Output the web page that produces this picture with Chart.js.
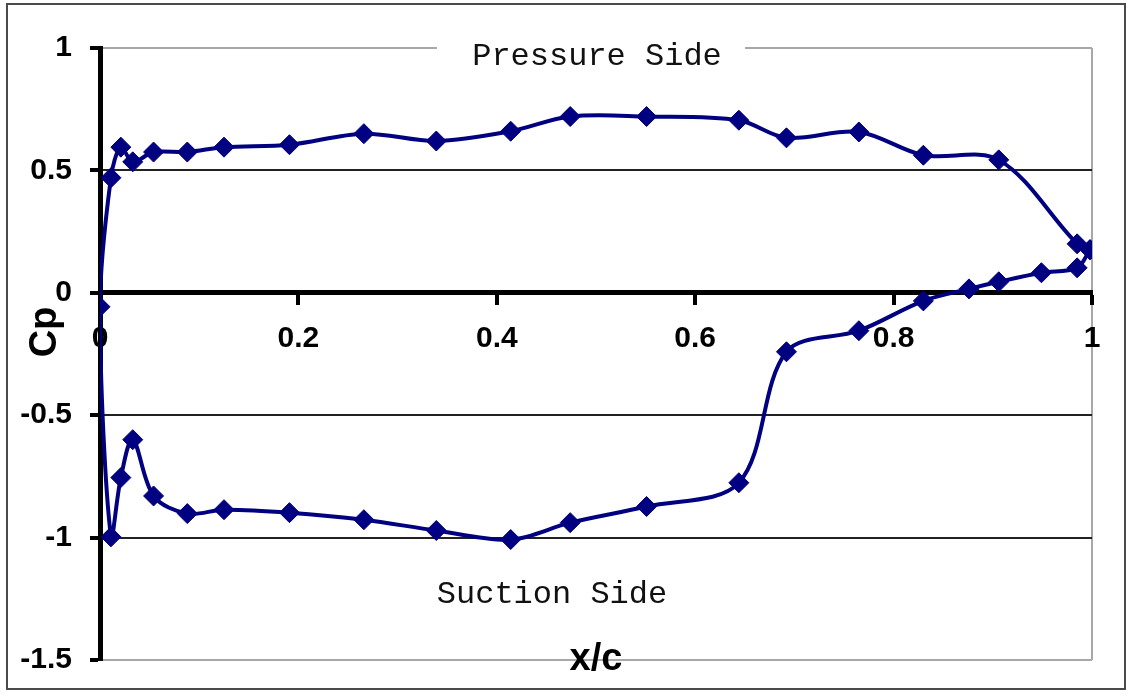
<!DOCTYPE html>
<html>
<head>
<meta charset="utf-8">
<script src="https://cdn.jsdelivr.net/npm/chart.js@4.4.1/dist/chart.umd.min.js"></script>
<style>
  html, body { margin: 0; padding: 0; background: #fff; }
  canvas { display: block; }
</style>
</head>
<body>
<canvas id="cp" width="1130" height="695"></canvas>
<script>
// Chordwise stations (x/c) and pressure coefficients, leading edge to trailing edge
const xPressure  = [0, 0.011, 0.021, 0.033, 0.054, 0.088, 0.125, 0.191, 0.266, 0.339, 0.414, 0.474, 0.551, 0.644, 0.692, 0.765, 0.830, 0.906, 0.985, 0.998];
const cpPressure = [-0.057, 0.47, 0.595, 0.535, 0.575, 0.575, 0.595, 0.605, 0.65, 0.62, 0.66, 0.72, 0.72, 0.705, 0.633, 0.657, 0.562, 0.543, 0.20, 0.176];

const xSuction  = [0, 0.011, 0.021, 0.033, 0.054, 0.088, 0.125, 0.191, 0.266, 0.339, 0.414, 0.474, 0.551, 0.644, 0.692, 0.765, 0.830, 0.876, 0.906, 0.949, 0.985, 0.998];
const cpSuction = [-0.057, -0.997, -0.755, -0.60, -0.83, -0.902, -0.886, -0.898, -0.927, -0.971, -1.008, -0.939, -0.873, -0.776, -0.241, -0.155, -0.033, 0.016, 0.045, 0.082, 0.102, 0.176];

const xTicks = [0, 0.2, 0.4, 0.6, 0.8, 1];
const yTicks = [-1.5, -1, -0.5, 0, 0.5, 1];

const sideLabels = { upper: 'Pressure Side', lower: 'Suction Side' };
const axisTitles = { x: 'x/c', y: 'Cp' };

// One closed contour: pressure side from trailing edge back to the leading edge,
// then the suction side out to the trailing edge again.
const contour = [];
for (let i = xPressure.length - 1; i >= 0; i--) contour.push({ x: xPressure[i], y: cpPressure[i] });
for (let i = 1; i < xSuction.length; i++) contour.push({ x: xSuction[i], y: cpSuction[i] });

const NAVY = '#000080';
const TICK_FONT = { family: '"Liberation Sans", Arial, sans-serif', size: 30, weight: 'bold' };
const BORDER_GREY = '#a8a8a8';

const decorations = {
  id: 'decorations',
  beforeDraw(chart) {
    const ctx = chart.ctx;
    ctx.save();
    ctx.fillStyle = '#fff';
    ctx.fillRect(0, 0, chart.width, chart.height);
    ctx.strokeStyle = '#4a4a4a';
    ctx.lineWidth = 2;
    ctx.strokeRect(7, 4, 1118, 685);
    ctx.restore();
  },
  afterDraw(chart) {
    const ctx = chart.ctx;
    const xs = chart.scales.x, ys = chart.scales.y;
    ctx.save();
    // label box sitting on the top border of the plot area
    ctx.fillStyle = '#fff';
    ctx.fillRect(437, ys.getPixelForValue(1) - 10, 308, 28);
    ctx.fillStyle = '#111';
    ctx.font = '32px "Liberation Mono", "Courier New", monospace';
    ctx.textAlign = 'center';
    ctx.textBaseline = 'middle';
    ctx.fillText(sideLabels.upper, 597, 57);
    ctx.fillText(sideLabels.lower, 552, 595);

    ctx.fillStyle = '#000';
    ctx.font = 'bold 38px "Liberation Sans", Arial, sans-serif';
    ctx.fillText(axisTitles.x, xs.getPixelForValue(0.5), ys.getPixelForValue(-1.5));
    ctx.translate(46, 332);
    ctx.rotate(-Math.PI / 2);
    ctx.fillText(axisTitles.y, 0, 0);
    ctx.restore();
  }
};

new Chart(document.getElementById('cp'), {
  type: 'line',
  data: {
    datasets: [{
      data: contour,
      borderColor: NAVY,
      backgroundColor: NAVY,
      borderWidth: 4,
      tension: 0.33,
      fill: false,
      pointStyle: 'rectRot',
      pointRadius: 10,
      pointBorderWidth: 1,
      pointBorderColor: NAVY,
      pointBackgroundColor: NAVY
    }]
  },
  options: {
    responsive: false,
    animation: false,
    devicePixelRatio: 1,
    layout: { padding: { left: 0, right: 38, top: 48, bottom: 35 } },
    plugins: { legend: { display: false }, tooltip: { enabled: false } },
    scales: {
      x: {
        type: 'linear',
        min: 0,
        max: 1,
        position: { y: 0 },
        afterBuildTicks: s => { s.ticks = xTicks.map(v => ({ value: v })); },
        afterFit: s => { s.paddingLeft = 0; s.paddingRight = 0; },
        ticks: {
          callback: v => String(v),
          font: TICK_FONT,
          color: '#000',
          padding: 18,
          maxRotation: 0,
          autoSkip: false
        },
        grid: {
          color: c => (c.tick && c.tick.value === 1) ? BORDER_GREY : 'rgba(0,0,0,0)',
          lineWidth: 2,
          tickColor: '#000',
          tickWidth: 4,
          tickLength: 10
        },
        border: { color: '#000', width: 5 }
      },
      y: {
        type: 'linear',
        min: -1.5,
        max: 1,
        position: 'left',
        afterBuildTicks: s => { s.ticks = yTicks.map(v => ({ value: v })); },
        afterFit: s => { s.width = 100; s.paddingTop = 0; s.paddingBottom = 0; },
        ticks: {
          callback: v => String(v),
          font: TICK_FONT,
          color: '#000',
          padding: 18
        },
        grid: {
          color: c => {
            const v = c.tick ? c.tick.value : null;
            if (v === 1 || v === -1.5) return BORDER_GREY;
            if (v === 0) return 'rgba(0,0,0,0)';
            return '#222';
          },
          lineWidth: 2,
          tickColor: '#000',
          tickWidth: 4,
          tickLength: 10
        },
        border: { color: '#000', width: 5 }
      }
    }
  },
  plugins: [decorations]
});
</script>
</body>
</html>
